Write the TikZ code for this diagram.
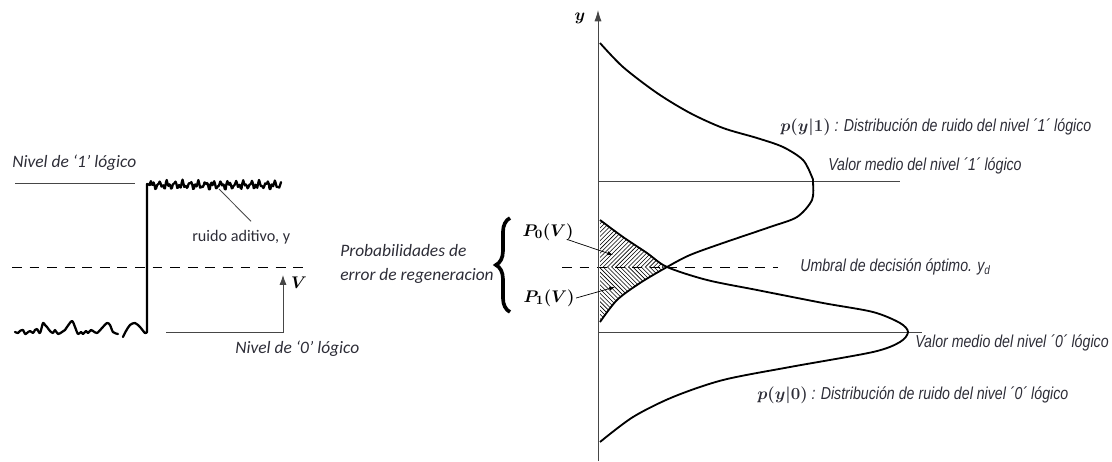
\documentclass[tikz,border=0pt]{standalone}
\usepackage{amsmath}
\usepackage{fontspec}
\usetikzlibrary{positioning,arrows.meta,patterns,decorations.pathreplacing}
\newfontfamily\calibfont{Carlito}
\newfontfamily\narrowfont[FakeStretch=0.82]{Liberation Sans}
\definecolor{labelgray}{RGB}{45,45,55}
\definecolor{axisgray}{RGB}{70,70,70}

\begin{document}
\begin{tikzpicture}[x=0.025cm,y=-0.025cm,>=Latex,
  leftlbl/.style={font=\calibfont\itshape\fontsize{12.4}{17}\selectfont,text=labelgray,anchor=west,inner sep=0pt},
  rightlbl/.style={font=\narrowfont\itshape\fontsize{12.3}{14}\selectfont,text=labelgray,anchor=west,inner sep=0pt},
  mathlbl/.style={font=\fontsize{13}{15}\selectfont\boldmath,inner sep=0pt},
  curve/.style={line width=1.3pt,line join=round},
  noisy/.style={line width=1.6pt,line join=round,line cap=round},
  thinline/.style={line width=0.6pt,axisgray},
  levelgap/.style={dash pattern=on 7pt off 5.5pt,line width=0.6pt}]
  \useasboundingbox (0,0) rectangle (1112,461);

  % left: logic levels with noise
  \node[leftlbl] (nivel1) at (12,163) {Nivel de ‘1’ lógico};
  \draw[thinline] (15,183) -- (135,183);
  \draw[levelgap] (12,267) -- (307,267);
  \draw[noisy] plot[smooth] coordinates {(15,332) (18,333) (20,331) (23,330) (25,334) (27,333) (30,331) (33,333)
    (35,330) (37,329) (40,333) (43,323) (45,325) (47,327) (50,331) (53,333) (55,330) (58,334) (62,332) (65,330) (67,327) (72,321)
    (75,327) (78,334) (81,332) (83,334) (86,331) (88,333) (91,330) (93,331) (97,333) (102,328) (107,323) (110,325) (113,332) (118,334)};
  \draw[noisy] plot[smooth] coordinates {(123,337) (126,331) (130,325) (135,323) (140,327) (145,333) (147,332)}
    -- (147,184) -- (150,185)
    -- plot[domain=0:131,samples=150] ({\x+150},{185-2.6*sin(\x*47)-1.8*sin(\x*113+30)-1.1*sin(\x*89+60)});
  \node[font=\calibfont\fontsize{11.5}{13}\selectfont,text=labelgray,anchor=west,inner sep=0pt]
    (ruido) at (192,237) {ruido aditivo, y};
  \coordinate (noisept) at (219,189);
  \draw[thinline] ([xshift=7pt,yshift=6pt]ruido.north) -- (noisept);
  \draw[thinline,-{Latex[length=7pt,width=5pt]}] (166,332) -- (283,332) -- (283,275);
  \node[mathlbl] (vlbl) at (299,283) {$V$};
  \node[leftlbl] (nivel0) at (235,349) {Nivel de ‘0’ lógico};

  % middle: error probabilities
  \node[leftlbl,align=left] (proberr) at (340,264) {Probabilidades de\\error de regeneracion};
  \draw[decorate,decoration={brace,amplitude=10pt},line width=2.6pt] (510,312) -- (510,218);
  \node[mathlbl] (p0) at (548,232) {$P_0(V)$};
  \node[mathlbl] (p1) at (549,298) {$P_1(V)$};

  % right: noise distributions
  \fill[pattern=north east lines] (600,267) -- plot[smooth] coordinates {(600,220) (623,237) (647,253) (667,267)} -- cycle;
  \fill[pattern=north west lines] (600,267) -- plot[smooth] coordinates {(667,267) (640,283) (617,300) (600,322)} -- cycle;
  \draw[thinline] (598,181) -- (900,181);
  \draw[thinline] (598,332) -- (922,332);
  \draw[levelgap] (562,267) -- (778,267);
  \draw[thinline,-{Latex[length=8pt,width=5pt]}] (598,461) -- (598,10);
  \node[mathlbl] (ylbl) at (580,18) {$y$};
  \draw[curve] plot[smooth] coordinates {(600,43) (623,67) (657,93) (690,113) (723,128) (757,138)
    (783,147) (803,160) (812,177) (813,182) (812,200) (797,217) (770,227) (723,243) (690,255)
    (667,267) (640,283) (617,300) (600,322)};
  \draw[curve] plot[smooth] coordinates {(600,220) (623,237) (647,253) (667,267) (707,280) (757,290)
    (823,303) (873,312) (900,323) (908,332) (900,342) (873,352) (790,367) (723,380) (673,397)
    (633,417) (600,442)};
  \coordinate (p0tip) at (613,255);
  \coordinate (p1tip) at (615,287);
  \draw[line width=0.5pt,-{Latex[length=4pt,width=3pt]}] ([xshift=-5pt,yshift=1pt]p0.south east) -- (p0tip);
  \draw[line width=0.5pt,-{Latex[length=4pt,width=3pt]}] ([xshift=1pt]p1.east) -- (p1tip);

  \node[rightlbl] (dist1) at (780,127) {{\mdseries\upshape\fontsize{12}{14}\selectfont\boldmath$p(y|1)$} : Distribución de ruido del nivel ´1´ lógico};
  \node[rightlbl] (media1) at (828,166) {Valor medio del nivel ´1´ lógico};
  \node[rightlbl] (umbral) at (800,267) {Umbral de decisión óptimo. y\textsubscript{d}};
  \node[rightlbl] (media0) at (915,343) {Valor medio del nivel ´0´ lógico};
  \node[rightlbl] (dist0) at (757,395) {{\mdseries\upshape\fontsize{12}{14}\selectfont\boldmath$p(y|0)$} : Distribución de ruido del nivel ´0´ lógico};
\end{tikzpicture}
\end{document}
